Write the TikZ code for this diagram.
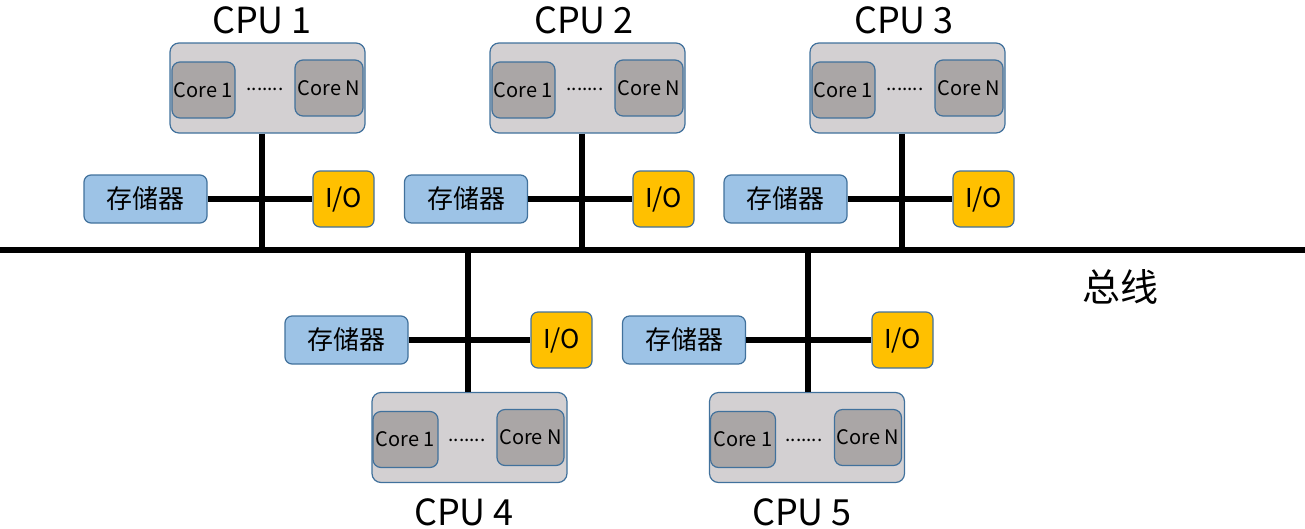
\documentclass[tikz,border=0pt]{standalone}
\usepackage{fontspec}
\setmainfont{Noto Sans CJK SC}
\usetikzlibrary{positioning}

\definecolor{edgeblue}{HTML}{41719C}
\definecolor{cpugray}{HTML}{D3D0D2}
\definecolor{coregray}{HTML}{AAA6A6}
\definecolor{memblue}{HTML}{9DC3E6}
\definecolor{ioyellow}{HTML}{FFC000}

\begin{document}
\begin{tikzpicture}[x=1pt, y=-1pt,
  cpubox/.style={draw=edgeblue, fill=cpugray, line width=1.2pt, rounded corners=9pt, minimum width=195pt, minimum height=90pt, inner sep=0pt},
  corebox/.style={draw=edgeblue, fill=coregray, line width=1.2pt, rounded corners=8pt, minimum height=56pt, inner sep=0pt, anchor=north west, font=\fontsize{20}{20}\selectfont},
  membox/.style={draw=edgeblue, fill=memblue, line width=1.2pt, rounded corners=7pt, minimum width=123pt, minimum height=48pt, inner sep=0pt, font=\fontsize{26}{26}\selectfont},
  iobox/.style={draw=edgeblue, fill=ioyellow, line width=1.2pt, rounded corners=7pt, minimum width=61pt, minimum height=56pt, inner sep=0pt, font=\fontsize{26}{26}\selectfont},
  cpulabel/.style={font=\fontsize{36}{36}\selectfont, inner sep=0pt},
  dots/.style={font=\fontsize{19}{19}\selectfont, inner sep=0pt},
  wire/.style={line width=5.5pt},
  bus/.style={line width=6pt}
]
\useasboundingbox (0,0) rectangle (1305,528);

% bus
\coordinate (busl) at (0,250);
\coordinate (busr) at (1305,250);
\draw[bus] (busl) -- (busr);
\node[font=\fontsize{38}{38}\selectfont, inner sep=0pt] (buslabel) at (1120,287) {总线};

% CPU 1
\node[cpulabel] (cpu1label) at (262,20) {CPU 1};
\node[cpubox] (cpu1) at (267.5,88) {};
\node[corebox, minimum width=63pt] (cpu1core1) at ([shift={(2,19)}]cpu1.north west) {Core 1};
\node[corebox, minimum width=68pt] (cpu1coreN) at ([shift={(125,17)}]cpu1.north west) {Core N};
\node[dots] (cpu1dots) at (265,89) {.......};
\node[membox] (mem1) at (145.5,199) {存储器};
\node[iobox] (io1) at (343.5,199) {I/O};
\draw[wire] ([xshift=-5.5pt]cpu1.south) -- ([xshift=-5.5pt]cpu1.south |- busl);
\draw[wire] (mem1.east) -- (io1.west);

% CPU 2
\node[cpulabel] (cpu2label) at (584,20) {CPU 2};
\node[cpubox] (cpu2) at (587.5,88) {};
\node[corebox, minimum width=63pt] (cpu2core1) at ([shift={(2,19)}]cpu2.north west) {Core 1};
\node[corebox, minimum width=68pt] (cpu2coreN) at ([shift={(125,17)}]cpu2.north west) {Core N};
\node[dots] (cpu2dots) at (585,89) {.......};
\node[membox] (mem2) at (466,199) {存储器};
\node[iobox] (io2) at (663.5,199) {I/O};
\draw[wire] ([xshift=-5.5pt]cpu2.south) -- ([xshift=-5.5pt]cpu2.south |- busl);
\draw[wire] (mem2.east) -- (io2.west);

% CPU 3
\node[cpulabel] (cpu3label) at (904,20) {CPU 3};
\node[cpubox] (cpu3) at (907.5,88) {};
\node[corebox, minimum width=63pt] (cpu3core1) at ([shift={(2,19)}]cpu3.north west) {Core 1};
\node[corebox, minimum width=68pt] (cpu3coreN) at ([shift={(125,17)}]cpu3.north west) {Core N};
\node[dots] (cpu3dots) at (905,89) {.......};
\node[membox] (mem3) at (785.5,199) {存储器};
\node[iobox] (io3) at (983.5,199) {I/O};
\draw[wire] ([xshift=-5.5pt]cpu3.south) -- ([xshift=-5.5pt]cpu3.south |- busl);
\draw[wire] (mem3.east) -- (io3.west);

% CPU 4
\node[cpubox] (cpu4) at (469.5,437.5) {};
\node[corebox, minimum width=65pt] (cpu4core1) at ([shift={(1,19)}]cpu4.north west) {Core 1};
\node[corebox, minimum width=67pt] (cpu4coreN) at ([shift={(125,17)}]cpu4.north west) {Core N};
\node[dots] (cpu4dots) at (467,440) {.......};
\node[cpulabel] (cpu4label) at (464,512) {CPU 4};
\node[membox] (mem4) at (346.5,340) {存储器};
\node[iobox] (io4) at (561.5,340) {I/O};
\draw[wire] ([xshift=-1.5pt]cpu4.north) -- ([xshift=-1.5pt]cpu4.north |- busl);
\draw[wire] (mem4.east) -- (io4.west);

% CPU 5
\node[cpubox] (cpu5) at (807,437.5) {};
\node[corebox, minimum width=65pt] (cpu5core1) at ([shift={(1,19)}]cpu5.north west) {Core 1};
\node[corebox, minimum width=67pt] (cpu5coreN) at ([shift={(125,17)}]cpu5.north west) {Core N};
\node[dots] (cpu5dots) at (804,440) {.......};
\node[cpulabel] (cpu5label) at (802,512) {CPU 5};
\node[membox] (mem5) at (684,340) {存储器};
\node[iobox] (io5) at (902.5,340) {I/O};
\draw[wire] ([xshift=1pt]cpu5.north) -- ([xshift=1pt]cpu5.north |- busl);
\draw[wire] (mem5.east) -- (io5.west);

\end{tikzpicture}
\end{document}
